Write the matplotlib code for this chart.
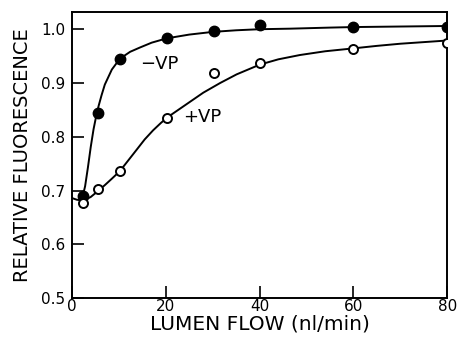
import matplotlib
matplotlib.use("Agg")
import matplotlib.pyplot as plt

# measured points
flow = [2.3, 5.5, 10.3, 20.2, 30.2, 40.1, 60.0, 80.0]
minus_vp = [0.690, 0.845, 0.945, 0.984, 0.996, 1.008, 1.004, 1.004]
plus_vp = [0.676, 0.702, 0.736, 0.835, 0.918, 0.937, 0.964, 0.975]

# fitted curves
minus_fit_x = [2.2, 2.8, 3.4, 4.0, 4.6, 5.2, 5.7, 6.3, 7.0, 8.5, 10.2, 12.4,
               14.5, 17, 20.2, 25, 30, 35, 40, 46.5, 55, 60, 70, 80]
minus_fit_y = [0.686, 0.708, 0.743, 0.781, 0.814, 0.840, 0.858, 0.877, 0.897,
               0.925, 0.945, 0.958, 0.966, 0.975, 0.983, 0.990, 0.995, 0.998,
               1.000, 1.001, 1.003, 1.004, 1.005, 1.006]
plus_fit_x = [0, 1, 2.4, 4, 5.4, 7, 8.5, 10.2, 12, 13.8, 15.5, 17.3, 19, 20.5,
              22.5, 24.5, 28, 31.6, 35.1, 40, 44, 48.6, 54, 59.6, 65, 70, 75, 80]
plus_fit_y = [0.686, 0.683, 0.681, 0.688, 0.698, 0.710, 0.722, 0.736, 0.756,
              0.776, 0.795, 0.812, 0.826, 0.837, 0.849, 0.861, 0.882, 0.900,
              0.916, 0.934, 0.944, 0.952, 0.959, 0.964, 0.969, 0.973, 0.976,
              0.979]

xticks = [0, 20, 40, 60, 80]
yticks = [0.5, 0.6, 0.7, 0.8, 0.9, 1.0]

plt.rcParams['font.family'] = ['DejaVu Sans']

fig = plt.figure(figsize=(4.57, 3.43), dpi=100)
ax = fig.add_axes([0.1575, 0.131, 0.821, 0.834])

ax.plot(minus_fit_x, minus_fit_y, color='black', lw=1.4, zorder=2)
ax.plot(plus_fit_x, plus_fit_y, color='black', lw=1.4, zorder=2)
ax.plot(flow, minus_vp, 'o', color='black', ms=7.5, zorder=3)
ax.plot(flow, plus_vp, 'o', mfc='white', mec='black', mew=1.4, ms=6.5, zorder=3)

ax.text(14.5, 0.936, "\u2212VP", fontsize=13, va='center', ha='left')
ax.text(23.7, 0.837, "+VP", fontsize=13, va='center', ha='left')

ax.set_xlim(0, 80)
ax.set_ylim(0.5, 1.032)
ax.set_xticks(xticks)
ax.set_xticklabels([str(t) for t in xticks])
ax.set_yticks(yticks)
ax.set_yticklabels([f"{t:.1f}" for t in yticks])
ax.tick_params(direction='in', length=8.5, width=1.2, labelsize=11)
ax.tick_params(axis='x', pad=1)
ax.tick_params(axis='y', pad=5)
for s in ax.spines.values():
    s.set_linewidth(1.4)

ax.set_xlabel("LUMEN FLOW (nl/min)", fontsize=14.5, labelpad=0)
ax.set_ylabel("RELATIVE FLUORESCENCE", fontsize=14, labelpad=6)

fig.savefig("out.png", dpi=100)
